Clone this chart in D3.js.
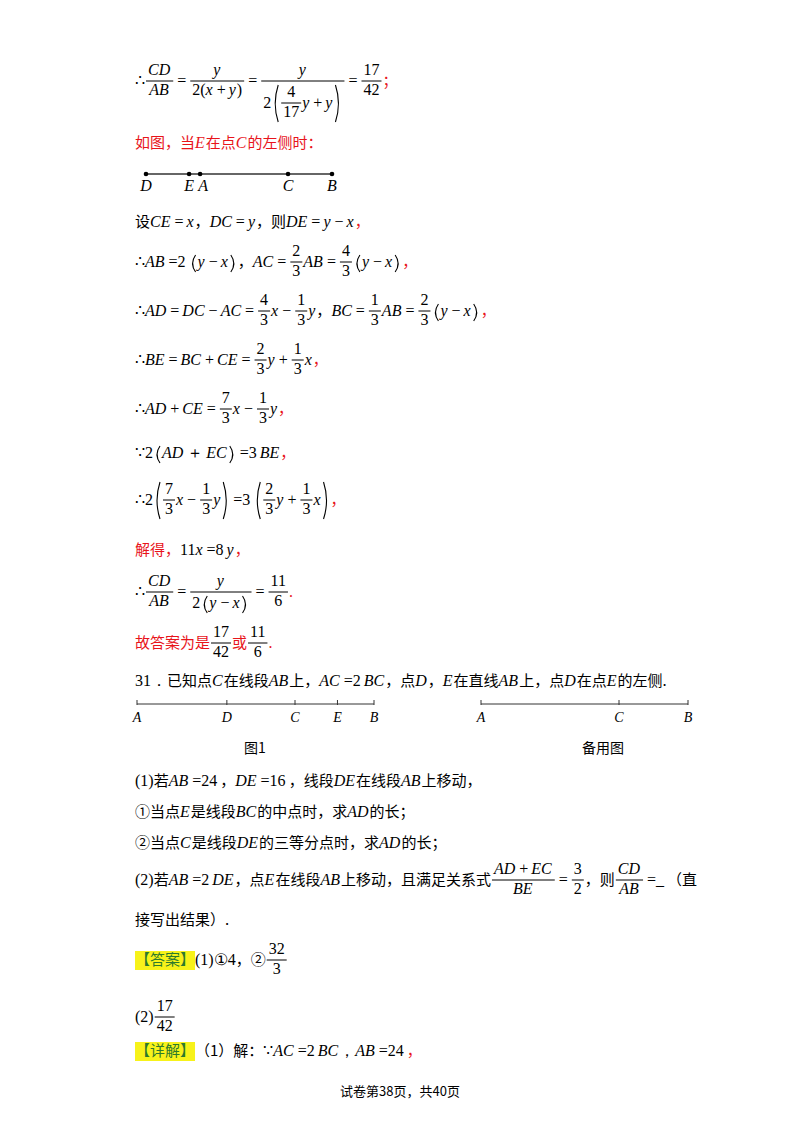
<!DOCTYPE html>
<html><head><meta charset="utf-8">
<script src="https://cdn.jsdelivr.net/npm/d3@7"></script>
<style>body{margin:0;background:#fff}</style></head>
<body><svg id="s" width="800" height="1132"></svg>
<script>
const RED="#e8141b";
// number-line data
const line0Labels=["D","E","A","C","B"], line0Vals=[-1.23,-0.25,0,2,3];
const fig1Labels=["A","D","C","E","B"], fig1Vals=[0,9.1,16,20.3,24];
const fig2Labels=["A","C","B"], fig2Vals=[0,16,24];
const figCaptions=["图1","备用图"];
const footer="试卷第38页，共40页";

const svg=d3.select("#s");
const FS=15, LFS=16, LAT="'Liberation Serif','DejaVu Serif',serif", CJK="'Noto Sans CJK SC',sans-serif";
const meas=svg.append("g");
function tw(s,it,cj,fs){const t=meas.append("text").attr("font-family",cj?CJK:LAT).attr("font-size",fs||(cj?FS:LFS)).attr("font-style",it?"italic":"normal").text(s);const w=t.node().getComputedTextLength();t.remove();return w;}
const T=(s,c)=>({k:"t",s,c}), I=(s,c)=>({k:"t",s,it:1,c}), C=(s,c)=>({k:"t",s,cj:1,c});
const F=(n,d)=>({k:"f",n,d}), P=(a)=>({k:"p",a});
function lay(tok){
  if(Array.isArray(tok)){const ls=tok.map(lay);let w=0,up=11,down=4;ls.forEach(l=>{w+=l.w;up=Math.max(up,l.up);down=Math.max(down,l.down);});
    return {w,up,down,draw(g,x,b){let cx=x;ls.forEach(l=>{l.draw(g,cx,b);cx+=l.w;});}};}
  if(tok.k==="t"){const pad=(!tok.cj&&/[=+−＋]/.test(tok.s))?3:0;const w=tw(tok.s,tok.it,tok.cj);
    return {w:w+(tok.it?1:0)+2*pad,up:11,down:4,draw(g,x,b){g.append("text").attr("x",x+pad).attr("y",b).attr("font-family",tok.cj?CJK:LAT).attr("font-size",tok.cj?FS:LFS).attr("font-style",tok.it?"italic":"normal").attr("fill",tok.c||"#000").text(tok.s);}};}
  if(tok.k==="f"){const n=lay(tok.n),d=lay(tok.d);const w=Math.max(n.w,d.w)+4;
    return {w:w+2,up:5+2+n.down+n.up,down:-5+3+d.up+d.down,draw(g,x,b){const ax=b-5;g.append("line").attr("x1",x+1).attr("x2",x+1+w).attr("y1",ax).attr("y2",ax).attr("stroke","#000").attr("stroke-width",1);
      n.draw(g,x+1+(w-n.w)/2,ax-2-n.down);d.draw(g,x+1+(w-d.w)/2,ax+3+d.up);}};}
  if(tok.k==="p"){const c=lay(tok.a);const pw=8;
    return {w:c.w+2*pw+2,up:c.up+2,down:c.down+2,draw(g,x,b){const t=b-c.up-1,bt=b+c.down+1,m=(t+bt)/2;
      g.append("path").attr("d",`M${x+pw-1},${t} Q${x+1},${m} ${x+pw-1},${bt}`).attr("fill","none").attr("stroke","#000").attr("stroke-width",1.1);
      c.draw(g,x+pw+1,b);const rx=x+pw+2+c.w;
      g.append("path").attr("d",`M${rx+1},${t} Q${rx+pw-1},${m} ${rx+1},${bt}`).attr("fill","none").attr("stroke","#000").attr("stroke-width",1.1);}};}
}
function row(toks,x,b){lay(toks).draw(svg,x,b);}
const X=135;
const th=(a,b)=>F([T(a)],[T(b)]);
row([T("∴"),F([I("CD")],[I("AB")]),T("="),F([I("y")],[T("2("),I("x"),T("+"),I("y"),T(")")]),T("="),F([I("y")],[T("2"),P([th("4","17"),I("y"),T("+"),I("y")])]),T("="),th("17","42"),C("；",RED)],X,86);
row([C("如图，当",RED),I("E",RED),C("在点",RED),I("C",RED),C("的左侧时：",RED)],X,148);

function numLine(labels,vals,x0,x1,y,dots,ticks){
  const sc=d3.scaleLinear().domain(d3.extent(vals)).range([x0,x1]);
  svg.append("line").attr("x1",x0).attr("x2",x1).attr("y1",y).attr("y2",y).attr("stroke","#333").attr("stroke-width",dots?1.4:1);
  vals.forEach((v,i)=>{const px=sc(v);
    if(dots)svg.append("circle").attr("cx",px).attr("cy",y).attr("r",2.3).attr("fill","#000");
    if(ticks)svg.append("line").attr("x1",px).attr("x2",px).attr("y1",y-4).attr("y2",y+1).attr("stroke","#333");
    svg.append("text").attr("x",px+(dots&&labels[i]==="A"?3:0)).attr("y",y+(dots?17:18)).attr("text-anchor","middle").attr("font-family",LAT).attr("font-style","italic").attr("font-size",dots?16:14).text(labels[i]);});
}
numLine(line0Labels,line0Vals,146,332,174,true,false);

row([C("设"),I("CE"),T("="),I("x"),C("，"),I("DC"),T("="),I("y"),C("，则"),I("DE"),T("="),I("y"),T("−"),I("x"),C("，",RED)],X,227);
row([T("∴"),I("AB"),T("=2"),P([I("y"),T("−"),I("x")]),C("，"),I("AC"),T("="),th("2","3"),I("AB"),T("="),th("4","3"),P([I("y"),T("−"),I("x")]),C("，",RED)],X,267);
row([T("∴"),I("AD"),T("="),I("DC"),T("−"),I("AC"),T("="),th("4","3"),I("x"),T("−"),th("1","3"),I("y"),C("，"),I("BC"),T("="),th("1","3"),I("AB"),T("="),th("2","3"),P([I("y"),T("−"),I("x")]),C("，",RED)],X,316);
row([T("∴"),I("BE"),T("="),I("BC"),T("+"),I("CE"),T("="),th("2","3"),I("y"),T("+"),th("1","3"),I("x"),C("，",RED)],X,365);
row([T("∴"),I("AD"),T("+"),I("CE"),T("="),th("7","3"),I("x"),T("−"),th("1","3"),I("y"),C("，",RED)],X,414);
row([T("∵2"),P([I("AD"),T("＋"),I("EC")]),T("=3"),I("BE"),C("，",RED)],X,458);
row([T("∴2"),P([th("7","3"),I("x"),T("−"),th("1","3"),I("y")]),T("=3"),P([th("2","3"),I("y"),T("+"),th("1","3"),I("x")]),C("，",RED)],X,505);
row([C("解得，",RED),T("11"),I("x"),T("=8"),I("y"),C("，",RED)],X,555);
row([T("∴"),F([I("CD")],[I("AB")]),T("="),F([I("y")],[T("2"),P([I("y"),T("−"),I("x")])]),T("="),th("11","6"),T(".",RED)],X,597);
row([C("故答案为是",RED),th("17","42"),C("或",RED),th("11","6"),T(".",RED)],X,648);
row([T("31．"),C("已知点"),I(" C "),C("在线段"),I("AB"),C("上，"),I("AC"),T("=2"),I("BC"),C("，点"),I("D"),C("，"),I("E"),C(" 在直线"),I("AB"),C("上，点"),I(" D "),C("在点"),I(" E "),C("的左侧.")],X,686);

numLine(fig1Labels,fig1Vals,137,374,704,false,true);
numLine(fig2Labels,fig2Vals,481,688,704,false,true);
svg.selectAll(".cap").data(figCaptions).join("text").attr("x",(d,i)=>[255,603][i]).attr("y",753).attr("text-anchor","middle").attr("font-family",CJK).attr("font-size",14).text(d=>d);

row([T("(1)"),C("若"),I("AB"),T("=24"),C("，"),I("DE"),T("=16"),C("，线段"),I("DE"),C("在线段"),I("AB"),C("上移动，")],X,786);
row([C("①当点"),I(" E "),C("是线段"),I("BC"),C("的中点时，求"),I("AD"),C("的长；")],X,817);
row([C("②当点"),I(" C "),C("是线段"),I("DE"),C("的三等分点时，求"),I("AD"),C("的长；")],X,848);
row([T("(2)"),C("若"),I("AB"),T("=2"),I("DE"),C("，点"),I(" E "),C("在线段"),I("AB"),C("上移动，且满足关系式"),F([I("AD"),T("+"),I("EC")],[I("BE")]),T("="),th("3","2"),C("，则"),F([I("CD")],[I("AB")]),T("=_"),C("（直")],X,885);
row([C("接写出结果）.")],X,925);
function tag(txt,x,b){const w=tw(txt,0,1);svg.append("rect").attr("x",x).attr("y",b-14).attr("width",w).attr("height",19).attr("fill","#f7f21a");svg.append("text").attr("x",x).attr("y",b).attr("font-family",CJK).attr("font-size",FS).attr("fill","#2d7a2d").text(txt);return w;}
let w1=tag("【答案】",X,965);
row([T("(1)①4"),C("，②"),th("32","3")],X+w1,965);
row([T("(2)"),th("17","42")],X,1022);
let w2=tag("【详解】",X,1056);
row([C("（1）解："),T("∵"),I("AC"),T("=2"),I("BC"),T(" ，"),I("AB"),T("=24"),C("，",RED)],X+w2,1056);
svg.append("text").attr("x",400).attr("y",1096).attr("text-anchor","middle").attr("font-family",CJK).attr("font-size",13).text(footer);
</script></body></html>
